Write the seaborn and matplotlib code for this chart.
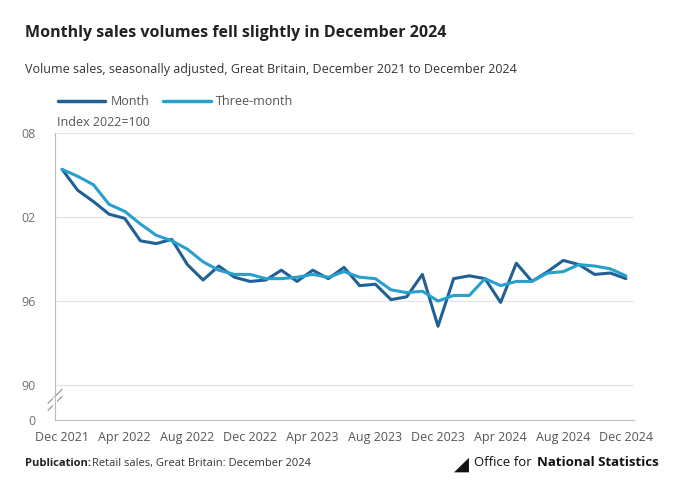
import numpy as np
import pandas as pd
import matplotlib.pyplot as plt
import seaborn as sns

months = pd.date_range("2021-12-01", "2024-12-01", freq="MS")
month_vals = [105.4, 103.9, 103.1, 102.2, 101.9, 100.3, 100.1, 100.4, 98.6, 97.5, 98.5, 97.7, 97.4,
              97.5, 98.2, 97.4, 98.2, 97.6, 98.4, 97.1, 97.2, 96.1, 96.3, 97.9, 94.2,
              97.6, 97.8, 97.6, 95.9, 98.7, 97.4, 98.1, 98.9, 98.6, 97.9, 98.0, 97.6]
three_vals = [105.4, 104.9, 104.3, 102.9, 102.4, 101.5, 100.7, 100.3, 99.7, 98.8, 98.2, 97.9, 97.9,
              97.6, 97.6, 97.7, 97.9, 97.7, 98.1, 97.7, 97.6, 96.8, 96.6, 96.7, 96.0,
              96.4, 96.4, 97.6, 97.1, 97.4, 97.4, 98.0, 98.1, 98.6, 98.5, 98.3, 97.8]
ytick_vals = [87.5, 90, 96, 102, 108]
ytick_labels = ["0", "90", "96", "02", "08"]

df = pd.DataFrame({"x": np.arange(len(months)), "Month": month_vals, "Three-month": three_vals})
long = df.melt(id_vars="x", var_name="series", value_name="value")

sns.set_style("white")
plt.rcParams["font.family"] = ["Open Sans", "DejaVu Sans"]

fig = plt.figure(figsize=(6.8, 4.96), dpi=100)
ax = fig.add_axes([0.081, 0.153, 0.851, 0.579])
sns.lineplot(data=long, x="x", y="value", hue="series", palette=["#206095", "#27a0cc"],
             linewidth=2.2, ax=ax, legend=False)
ax.set_ylim(87.5, 108)
ax.set_xlim(-0.45, 36.5)
ax.set_yticks(ytick_vals)
ax.set_yticklabels(ytick_labels, color="#707070", fontsize=9)
for v in [90, 96, 102, 108]:
    ax.axhline(v, color="#e4e4e4", lw=0.9, zorder=0)
ax.set_xticks(np.arange(0, 37, 4))
ax.set_xticklabels([d.strftime("%b %Y") for d in months[::4]], color="#555555", fontsize=9)
ax.tick_params(axis="x", length=4, color="#bbbbbb")
ax.tick_params(axis="y", length=0, pad=14)
ax.set_xlabel("")
ax.set_ylabel("")
for s in ["top", "right"]:
    ax.spines[s].set_visible(False)
ax.spines["left"].set_color("#bbbbbb")
ax.spines["bottom"].set_color("#bbbbbb")
# axis break marks
for dy in [0, 0.5]:
    ax.plot([-0.9, 0.0], [88.2 + dy, 89.2 + dy], color="#999999", lw=0.9, clip_on=False)
ax.plot([-0.45, -0.45], [88.5, 89.0], color="white", lw=3, clip_on=False)
ax.text(-0.3, 108.3, "Index 2022=100", fontsize=9, color="#555555", va="bottom")

fig.text(0.037, 0.925, "Monthly sales volumes fell slightly in December 2024", fontsize=11.5,
         fontweight="bold", color="#222222")
fig.text(0.037, 0.852, "Volume sales, seasonally adjusted, Great Britain, December 2021 to December 2024",
         fontsize=9, color="#333333")
fig.lines.append(plt.Line2D([0.085, 0.155], [0.796, 0.796], color="#206095", lw=2.5, transform=fig.transFigure))
fig.text(0.163, 0.796, "Month", fontsize=9, color="#555555", va="center")
fig.lines.append(plt.Line2D([0.24, 0.31], [0.796, 0.796], color="#27a0cc", lw=2.5, transform=fig.transFigure))
fig.text(0.318, 0.796, "Three-month", fontsize=9, color="#555555", va="center")

fig.text(0.037, 0.06, "Publication:", fontsize=8, fontweight="bold", color="#222222")
fig.text(0.135, 0.06, "Retail sales, Great Britain: December 2024", fontsize=8, color="#333333")
fig.text(0.667, 0.053, "\u25e2", fontsize=14, color="#111111")
fig.text(0.697, 0.06, "Office for", fontsize=9.5, color="#111111")
fig.text(0.79, 0.06, "National Statistics", fontsize=9.5, fontweight="bold", color="#111111")

fig.savefig("out.png", dpi=100)
